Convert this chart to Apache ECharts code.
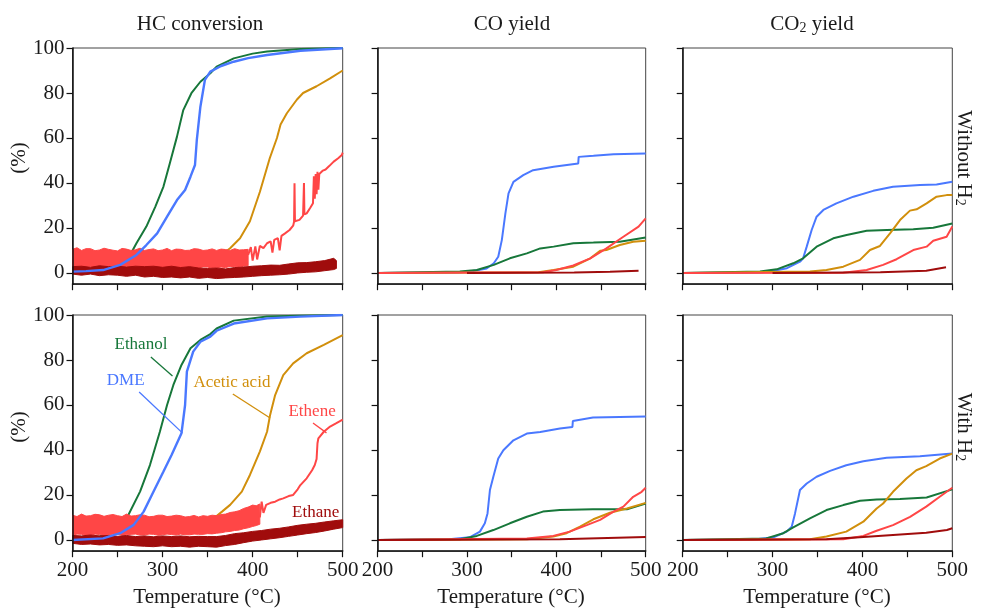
<!DOCTYPE html>
<html><head><meta charset="utf-8">
<script src="https://cdn.jsdelivr.net/npm/echarts@6/dist/echarts.min.js"></script>
<style>html,body{margin:0;padding:0;background:#fff}#c{width:982px;height:608px}</style>
</head><body><div id="c"></div>
<script>
// ---------- tick values ----------
const yTicks = [0, 20, 40, 60, 80, 100];
const xLabelTicks = [200, 300, 400, 500];
const colTitles = ['HC conversion', 'CO yield', 'CO2 yield'];
const rowTitles = ['Without H2', 'With H2'];
const seriesNames = ['Ethanol', 'DME', 'Acetic acid', 'Ethene', 'Ethane'];

// ---------- HC conversion, without H2 ----------
const hcWo_ethanol = [[200,0.5],[230,1.5],[250,3.5],[265,8.8],[271,13.2],[282,20.6],[292,29.5],[301,38.4],[308,48.7],[316,60.6],[323,72.4],[332,79.9],[342,85],[353,88.8],[360,91.7],[379,95.4],[400,97.5],[416,98.4],[453,99.6],[500,100]];
const hcWo_dme = [[200,0.6],[215,0.8],[234,1.3],[253,3.6],[271,8],[282,12.4],[294,17.6],[305,25],[316,32.4],[325,36.9],[331,42.8],[336,48],[338,59],[342,73.9],[347,85.8],[353,89.5],[365,92],[379,93.9],[395,95.5],[416,96.9],[453,98.8],[500,99.9]];
const hcWo_acetic = [[350,6],[365,8],[375,11],[386,15.4],[397,23],[408,36],[419,51],[427,60],[431,66],[438,71],[449,77],[456,80],[471,83],[486,86.5],[500,90]];
// noisy band: [T, low, high]
const hcWo_etheneBand = [[200,2.5,10.5],[205,2,11.2],[210,2,10],[215,2.6,10.8],[220,2.8,10.8],[225,2.1,9.9],[230,2.2,10.2],[235,2.7,11],[240,2.6,10.5],[245,2,10.1],[250,2.3,9.8],[255,2.5,10.9],[260,2.8,10.6],[265,2.2,10],[270,2.4,10.3],[275,2.6,11],[280,2,10],[285,2.4,10.4],[290,2.5,10.7],[295,2.1,9.9],[300,2.3,10.2],[305,2.5,10.9],[310,2.7,9.9],[315,2.2,10.6],[320,2.1,10.5],[325,2.6,10],[330,2.5,10.1],[335,2.3,10.8],[340,2.2,10.6],[345,2.7,10],[350,2.6,10.2],[355,2.2,10.7],[360,2.3,10],[365,2.6,10.6],[370,2.4,10.4],[375,2.9,10],[380,2.8,10.8],[385,2.6,10.2],[390,3,10.3],[395,3.2,10.5]];
const hcWo_etheneLine = [[395,8],[398,11.5],[400,5.5],[403,11.8],[405,6],[408,12],[412,11],[416,13.2],[420,14],[422,9],[424,14.7],[428,15.5],[430,10],[432,16.5],[436,17.6],[441,19.1],[445,21],[446,22.8],[446.5,39.9],[447,23],[452,23.6],[456,25.5],[457,40],[457.5,26],[460,26.5],[464,29],[467,31],[468,43],[469,33],[470,44],[471,35],[472,45],[473,37],[474,44],[475,44.3],[478,45.5],[481,46],[485,47.5],[490,49.5],[495,51],[499,52.4],[500,53.5]];
const hcWo_ethaneBand = [[200,-0.5,2.8],[210,-1,3],[220,-0.5,2.5],[230,-1.2,3.2],[240,-0.8,2.8],[250,-1,3],[260,-1.5,2.6],[270,-1,3],[280,-1.8,2.8],[290,-1.5,3],[300,-2,2.5],[310,-1.8,3],[320,-2.2,2.4],[330,-1.8,2.8],[340,-2.4,2.2],[350,-2,2],[360,-2.5,2.2],[370,-2.2,1.8],[380,-2,2.4],[390,-1.8,2.6],[400,-1.5,3],[410,-1.2,3.2],[420,-1,3.5],[430,-0.8,3.4],[440,-0.5,4],[450,0,4.5],[460,0.3,4.6],[470,0.5,5],[480,1,5.5],[490,1.5,6.5],[493,2,5.5]];

// ---------- CO yield, without H2 ----------
const coWo_dme = [[200,0],[290,0.2],[304,0.6],[322,2],[330,4.3],[335,7.2],[339,14.6],[343,26.5],[346.5,35.4],[352,40.5],[363,43.5],[374,45.7],[397,47.2],[424.5,48.7],[425,51.6],[441.5,52.1],[464,52.8],[500,53.1]];
const coWo_ethanol = [[200,0],[292,0.6],[311,1.3],[330,3.6],[348,6.5],[367,8.7],[382,10.9],[397,11.7],[419,13.2],[441.5,13.5],[471,13.9],[500,15.8]];
const coWo_acetic = [[200,0],[380,0.3],[397,1.3],[419,2.8],[438,6.5],[449,9.9],[456,10.2],[471,12.4],[486,13.9],[500,14.3]];
const coWo_ethene = [[200,0],[385,0.3],[400,1.3],[419,3.3],[438,6.5],[456,10.9],[475,16.1],[492,20.6],[500,24.3]];
const coWo_ethane = [[300,0],[420,0.2],[460,0.5],[492,1]];

// ---------- CO2 yield, without H2 ----------
const co2Wo_dme = [[200,0],[286,0.2],[297,0.6],[316,2.1],[330.5,5],[334,6.5],[338,11.7],[343.5,19.1],[349,25],[356.5,28],[371,30.9],[390,33.9],[412,36.5],[434,38.3],[464,39.1],[482.5,39.3],[500,40.5]];
const co2Wo_ethanol = [[200,0],[286,0.6],[304.6,1.6],[323,4.3],[334,6.5],[349,11.7],[367.6,15.4],[382.4,16.9],[404.7,18.8],[427,19.1],[456.6,19.4],[478.8,20.1],[500,22]];
const co2Wo_acetic = [[200,0],[341.6,0.6],[360,1.3],[378.7,2.8],[397.3,5.8],[408.4,10.2],[419.5,12],[430.7,17.6],[441.8,23.5],[452.9,27.7],[460.3,28.3],[471.4,30.9],[482.5,33.9],[493.7,34.6],[500,34.6]];
const co2Wo_ethene = [[200,0],[378.7,0.1],[404.7,1.3],[423,3.6],[438,6.1],[456.6,10.2],[471.4,11.7],[478.8,14.3],[493.7,16.1],[500,20.6]];
const co2Wo_ethane = [[300,0],[420,0.3],[471,1],[493,2.5]];

// ---------- HC conversion, with H2 ----------
const hcW_ethanol = [[200,0.5],[230,1.5],[250,4],[262,11.1],[275,21.5],[286,33.3],[297,48.1],[305,60],[312,68.9],[321,77.8],[331,85.2],[342,88.9],[353,91.5],[360,94],[379,97.5],[416,99.3],[450,99.7],[500,100]];
const hcW_dme = [[200,0],[234,0.7],[253,3],[268,6.7],[279,12.6],[290,21.5],[301,30.4],[310,37.8],[321,47.4],[325,60],[327,74.8],[334,83.7],[342,88.1],[353,90.4],[360,93],[379,96.2],[416,98.5],[453,99.3],[500,100]];
const hcW_acetic = [[340,5],[355,9],[366,12.6],[375,15.6],[388,21.5],[397,28.9],[408,39.3],[416,48.1],[419.4,55.6],[425,64.4],[434,73.3],[445,78.5],[460,83],[479,86.7],[500,91.1]];
const hcW_etheneBand = [[200,2,11],[205,2.6,10.4],[210,2.5,11.5],[215,2.1,10.6],[220,2,10.8],[225,2.6,11.4],[230,2.4,11.2],[235,2,10.5],[240,2.2,11],[245,2.6,11.3],[250,2.5,10.8],[255,2.1,10.4],[260,2.3,11.5],[265,2.5,10.6],[270,2.6,10.8],[275,2.2,11.2],[280,2.2,11],[285,2.6,10.3],[290,2.5,10.5],[295,2.1,11],[300,2.3,11],[305,2.6,10.4],[310,2.4,10.6],[315,2.2,11],[320,2.6,10.8],[325,2.3,10.2],[330,2.3,10.4],[335,2.6,10.9],[340,2.5,10.2],[345,2.5,10.8],[350,2.8,10.5],[355,2.7,11],[360,3,10.8],[365,3.2,11.3],[370,3.6,11.5],[375,3.8,12.2],[380,4.2,12.5],[385,4.4,13],[390,5,14],[395,5.4,14.6],[400,6,15.5],[404,6.4,15.2],[408,7,16]];
const hcW_etheneLine = [[408,10],[410,17],[412,12],[415,15.6],[420,16.5],[425,17],[430,18],[434,18.5],[440,19.5],[445,20],[450,22.5],[453,24.4],[460,27.4],[466,31],[469,33.3],[471,36],[472,43],[473,45.2],[479,48.1],[486,50.4],[493,51.9],[500,53.5]];
const hcW_ethaneBand = [[200,-1.5,2],[210,-2,1.8],[220,-1.8,2.2],[230,-2.2,1.8],[240,-2,2],[250,-2.4,1.6],[260,-2.2,2],[270,-2.6,1.5],[280,-2.8,1.8],[290,-3,1.4],[300,-2.6,1.8],[310,-3,1.5],[320,-2.8,1.8],[330,-3.2,1.4],[340,-2.8,1.6],[350,-3,1.5],[360,-3.2,1.5],[370,-2.5,2],[380,-2,2.8],[390,-1.2,3.2],[400,-0.5,3.8],[410,0,4.2],[420,0.5,4.8],[430,1,5.2],[440,1.6,5.8],[450,2.2,6.5],[460,2.8,7],[470,3.3,7.4],[480,4,8],[490,4.8,8.5],[500,5.5,9]];

// ---------- CO yield, with H2 ----------
const coW_dme = [[200,0],[280,0.3],[303,1.2],[314.5,3.7],[320,7.4],[323,11.8],[325.7,22.2],[329.5,28.1],[335,36.2],[340.7,39.9],[352,44.3],[367,47.3],[382,48],[404,49.5],[418,50.2],[418.5,52.9],[441,54.4],[471,54.7],[500,54.9]];
const coW_ethanol = [[200,0],[292,0.3],[311,1.8],[329.5,4.4],[348,7.4],[367,10.3],[385,12.6],[404,13.3],[441,13.6],[479,13.6],[500,16.2]];
const coW_acetic = [[200,0],[367,0.3],[396.6,1.5],[411.5,3],[426.5,5.9],[441.4,9.2],[460,12.1],[479,14],[500,16.5]];
const coW_ethene = [[200,0],[367,0.6],[396.6,1.8],[415,3.7],[434,6.6],[449,8.9],[464,12.6],[475,14.8],[486,19.2],[495.5,21.4],[500,23.2]];
const coW_ethane = [[200,0],[404,0.3],[500,1.3]];

// ---------- CO2 yield, with H2 ----------
const co2W_dme = [[200,0],[282,0.3],[301,1.2],[315.7,3.7],[321.3,5.9],[325,11.8],[330.5,22.2],[338,25.1],[349,28.1],[364,30.7],[382,33.2],[401,35],[427,36.5],[464,37.2],[500,38.4]];
const co2W_ethanol = [[200,0],[293,0.7],[312,3],[323,5.6],[341.6,9.6],[360,13.3],[378.7,15.5],[397.3,17.4],[415.8,18],[441.8,18.2],[471.4,18.9],[500,22.5]];
const co2W_acetic = [[200,0],[341.6,0.3],[360,1.5],[382,3.7],[401,8.1],[415.8,14],[423,16.2],[434,21.4],[449,27.3],[460,31],[471,32.8],[486,36.2],[500,38.4]];
const co2W_ethene = [[200,0],[378.7,0.3],[401,1.8],[415.8,4.1],[434,6.6],[453,10.3],[471,14.8],[486,19.2],[500,23.2]];
const co2W_ethane = [[200,0],[360,0.3],[397,1.2],[434,2.2],[471,3.2],[494,4.4],[500,5.2]];

// ---------- annotation anchors (data coords, HC conversion with H2) ----------
const annoText = [[276,86.7],[259,70.7],[377,69.8],[466,56.9],[470,12]];
const annoLeader = [[[287,81.3],[311,72.9]], [[274,65.8],[322,47.6]], [[378,64.9],[419.4,54.2]], [[467,52],[482,47.6]], null];

// ---------- styling ----------
const COL = {ethanol:'#17773a', dme:'#4a78ff', acetic:'#d18f0c', ethene:'#ff4646', ethane:'#a00c0c'};
const annoColors = [COL.ethanol, COL.dme, COL.acetic, COL.ethene, COL.ethane];
const FONT = "'Liberation Serif', 'Times New Roman', serif";
const TXT = '#1a1a1a';

const gridBoxes = [
  {left:72.5, top:48, width:270.2, height:236.2},
  {left:377.6, top:48, width:268.1, height:236.2},
  {left:682.7, top:48, width:269.6, height:236.2},
  {left:72.5, top:315, width:270.2, height:236.2},
  {left:377.6, top:315, width:268.1, height:236.2},
  {left:682.7, top:315, width:269.6, height:236.2}
];

const chart = echarts.init(document.getElementById('c'), null, {renderer:'canvas'});

const grids = gridBoxes.map(b => Object.assign({show:true, borderColor:'#444', borderWidth:1, backgroundColor:'transparent', containLabel:false, outerBoundsMode:'none'}, b));
const xAxes = gridBoxes.map((b,i) => ({
  type:'value', gridIndex:i, min:200, max:500, interval:50, z:10,
  axisLine:{show:true, onZero:false, lineStyle:{color:'#111', width:1.5}},
  axisTick:{show:true, inside:false, length:6, lineStyle:{color:'#111', width:1.2}},
  axisLabel:{show: i >= 3, color:TXT, fontFamily:FONT, fontSize:21, margin:9,
    formatter: v => (xLabelTicks.indexOf(v) >= 0 ? String(v) : '')},
  splitLine:{show:false}
}));
const yAxes = gridBoxes.map((b,i) => ({
  type:'value', gridIndex:i, min:-5, max:100, z:10,
  axisLine:{show:true, onZero:false, lineStyle:{color:'#111', width:1.5}},
  axisTick:{show:true, inside:false, length:6, customValues:yTicks, lineStyle:{color:'#111', width:1.2}},
  axisLabel:{show: i % 3 === 0, customValues:yTicks, color:TXT, fontFamily:FONT, fontSize:21, margin:8},
  splitLine:{show:false}
}));

function lineS(g, data, color, z, w) {
  return {type:'line', xAxisIndex:g, yAxisIndex:g, data:data, symbol:'none', showSymbol:false, z:z,
    lineStyle:{color:color, width:w || 2}, itemStyle:{color:color}, silent:true, animation:false};
}
// noisy band drawn as one polygon (low edge forward, high edge back) through the axis scales
function bandS(g, band, color, z) {
  return {type:'custom', xAxisIndex:g, yAxisIndex:g, data:band, silent:true, animation:false, z:z,
    encode:{x:0, y:[1,2]}, clip:true,
    renderItem: function(params, api) {
      if (params.dataIndex !== 0) return null;
      const pts = [];
      for (let k = 0; k < band.length; k++) pts.push(api.coord([band[k][0], band[k][1]]));
      for (let k = band.length - 1; k >= 0; k--) pts.push(api.coord([band[k][0], band[k][2]]));
      return {type:'polygon', shape:{points:pts}, style:{fill:color, stroke:color, lineWidth:1}};
    }};
}

const series = [
  // panel 0
  lineS(0, hcWo_ethanol, COL.ethanol, 2),
  lineS(0, hcWo_acetic, COL.acetic, 2),
  bandS(0, hcWo_etheneBand, COL.ethene, 3),
  lineS(0, hcWo_etheneLine, COL.ethene, 3),
  bandS(0, hcWo_ethaneBand, COL.ethane, 4),
  lineS(0, hcWo_dme, COL.dme, 5, 2.4),
  // panel 1
  lineS(1, coWo_dme, COL.dme, 2),
  lineS(1, coWo_ethanol, COL.ethanol, 2),
  lineS(1, coWo_acetic, COL.acetic, 2),
  lineS(1, coWo_ethene, COL.ethene, 2),
  lineS(1, coWo_ethane, COL.ethane, 2),
  // panel 2
  lineS(2, co2Wo_dme, COL.dme, 2),
  lineS(2, co2Wo_ethanol, COL.ethanol, 2),
  lineS(2, co2Wo_acetic, COL.acetic, 2),
  lineS(2, co2Wo_ethene, COL.ethene, 2),
  lineS(2, co2Wo_ethane, COL.ethane, 2),
  // panel 3
  lineS(3, hcW_ethanol, COL.ethanol, 2),
  lineS(3, hcW_acetic, COL.acetic, 2),
  bandS(3, hcW_etheneBand, COL.ethene, 3),
  lineS(3, hcW_etheneLine, COL.ethene, 3),
  bandS(3, hcW_ethaneBand, COL.ethane, 4),
  lineS(3, hcW_dme, COL.dme, 5, 2.4),
  // panel 4
  lineS(4, coW_dme, COL.dme, 2),
  lineS(4, coW_ethanol, COL.ethanol, 2),
  lineS(4, coW_acetic, COL.acetic, 2),
  lineS(4, coW_ethene, COL.ethene, 2),
  lineS(4, coW_ethane, COL.ethane, 2),
  // panel 5
  lineS(5, co2W_dme, COL.dme, 2),
  lineS(5, co2W_ethanol, COL.ethanol, 2),
  lineS(5, co2W_acetic, COL.acetic, 2),
  lineS(5, co2W_ethene, COL.ethene, 2),
  lineS(5, co2W_ethane, COL.ethane, 2)
];

const subRich = {
  n:{fontFamily:FONT, fontSize:21, color:TXT, lineHeight:26, verticalAlign:'bottom'},
  s:{fontFamily:FONT, fontSize:14, color:TXT, lineHeight:20, verticalAlign:'bottom'}
};

function label(x, y, text, rot, rich) {
  return {type:'text', x:x, y:y, rotation:rot || 0, silent:true,
    style:{text:text, fill:TXT, font:'21px ' + FONT, fontFamily:FONT, fontSize:21, align:'center', verticalAlign:'middle', rich:rich}};
}

const staticGraphics = [
  label(200, 24, colTitles[0]),
  label(512, 24, colTitles[1]),
  label(812, 22, '{n|CO}{s|2}{n| yield}', 0, subRich),
  label(19, 158, '(%)', Math.PI/2),
  label(19, 427, '(%)', Math.PI/2),
  label(966, 158, '{n|Without H}{s|2}', -Math.PI/2, subRich),
  label(966, 427, '{n|With H}{s|2}', -Math.PI/2, subRich),
  label(207, 597, 'Temperature (°C)'),
  label(511, 597, 'Temperature (°C)'),
  label(817, 597, 'Temperature (°C)')
];

chart.setOption({
  animation:false,
  backgroundColor:'#ffffff',
  grid:grids, xAxis:xAxes, yAxis:yAxes, series:series,
  graphic:staticGraphics
});

// annotations in the bottom-left panel, positioned via the panel's own scales
const anno = [];
seriesNames.forEach((name, i) => {
  const p = chart.convertToPixel({xAxisIndex:3, yAxisIndex:3}, annoText[i]);
  anno.push({type:'text', x:p[0], y:p[1], silent:true, z:20,
    style:{text:name, fill:annoColors[i], fontFamily:FONT, fontSize:17, font:'17px ' + FONT, align:'center', verticalAlign:'middle'}});
  if (annoLeader[i]) {
    const a = chart.convertToPixel({xAxisIndex:3, yAxisIndex:3}, annoLeader[i][0]);
    const b = chart.convertToPixel({xAxisIndex:3, yAxisIndex:3}, annoLeader[i][1]);
    anno.push({type:'line', silent:true, z:20, shape:{x1:a[0], y1:a[1], x2:b[0], y2:b[1]},
      style:{stroke:annoColors[i], lineWidth:1.3}});
  }
});
chart.setOption({graphic: staticGraphics.concat(anno)});
</script>
</body></html>
